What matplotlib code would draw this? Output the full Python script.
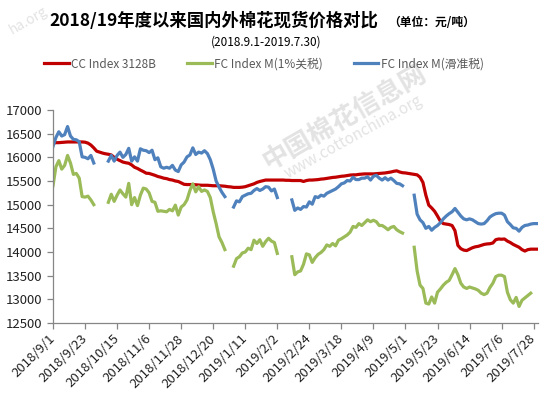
import numpy as np
import pandas as pd
import matplotlib
matplotlib.use('Agg')
import matplotlib.pyplot as plt

plt.rcParams['font.family'] = ['Noto Sans CJK SC', 'DejaVu Sans']

nan = np.nan

# one value every 2 days, 2018-09-01 .. 2019-07-30 (gaps = holidays)
dates = pd.date_range('2018-09-01', '2019-07-30', freq='2D')

cc_index = [
    16300, 16310, 16310, 16315, 16320, 16325, 16325, 16325, 16325, 16325,
    16325, 16320, 16300, 16260, 16200, 16130, 16110, 16090, 16075, 16065,
    16050, 16000, 15960, 15930, 15900, 15885, 15875, 15840, 15790, 15765,
    15730, 15700, 15665, 15660, 15640, 15620, 15595, 15580, 15560, 15550,
    15530, 15520, 15500, 15490, 15460, 15430, 15425, 15425, 15425, 15420,
    15415, 15410, 15410, 15410, 15405, 15400, 15400, 15400, 15395, 15390,
    15380, 15375, 15365, 15365, 15365, 15370, 15380, 15400, 15420, 15440,
    15470, 15490, 15505, 15520, 15520, 15520, 15520, 15520, 15520, 15520,
    15515, 15515, 15510, 15510, 15510, 15510, 15490, 15510, 15520, 15520,
    15525, 15530, 15540, 15545, 15555, 15565, 15575, 15580, 15590, 15600,
    15605, 15615, 15625, 15630, 15630, 15640, 15645, 15650, 15650, 15650,
    15650, 15655, 15660, 15665, 15670, 15680, 15690, 15705, 15715, 15690,
    15675, 15670, 15660, 15650, 15640, 15630, 15580, 15470, 15200, 14990,
    14930, 14860, 14760, 14650, 14600, 14590, 14580, 14560, 14450, 14140,
    14070, 14040, 14030, 14060, 14090, 14110, 14120, 14140, 14160, 14170,
    14175, 14190, 14260, 14275, 14270, 14275, 14230, 14200, 14160, 14130,
    14100, 14050, 14020, 14050, 14060, 14060, 14060,
]

fc_1pct = [
    15400, 15800, 15930, 15750, 15830, 16040, 15880, 15640, 15660, 15560,
    15170, 15160, 15180, 15100, 15000, nan, nan, nan, nan, 15050,
    15220, 15070, 15200, 15310, 15230, 15160, 15450, 15000, 15150, 14980,
    15200, 15350, 15330, 15250, 15070, 15050, 14860, 14870, 14860, 14850,
    14900, 14870, 14990, 14780, 14950, 15000, 15100, 15300, 15440, 15270,
    15380, 15280, 15310, 15280, 15150, 14850, 14600, 14320, 14200, 14050,
    nan, nan, 13700, 13860, 13900, 13980, 14000, 14080, 14050, 14250,
    14180, 14260, 14120, 14220, 14290, 14230, 14200, 13970, nan, nan,
    nan, nan, 13900, 13520, 13580, 13600, 13740, 13960, 13940, 13780,
    13880, 13950, 13990, 14050, 14150, 14120, 14180, 14130, 14250, 14280,
    14320, 14360, 14420, 14540, 14520, 14600, 14560, 14620, 14680, 14640,
    14670, 14640, 14560, 14560, 14520, 14470, 14520, 14540, 14470, 14430,
    14400, nan, nan, nan, 14100, 13600, 13300, 13230, 12920, 12900,
    13050, 12920, 13150, 13220, 13300, 13360, 13400, 13520, 13650, 13520,
    13340, 13260, 13230, 13260, 13240, 13220, 13190, 13130, 13100, 13130,
    13250, 13340, 13480, 13510, 13510, 13480, 13150, 12990, 12920, 13040,
    12850, 12980, 13030, 13080, 13130, nan, nan,
]

fc_sliding = [
    16230, 16420, 16540, 16450, 16480, 16650, 16450, 16380, 16370, 16330,
    16010, 16000, 15970, 16040, 15880, nan, nan, nan, nan, 15920,
    16040, 15920, 16040, 16110, 16000, 16060, 16190, 15920, 16010, 15920,
    16180, 16150, 16140, 16100, 16150, 15950, 15990, 15800, 15770, 15790,
    15770, 15830, 15730, 15700, 15840, 15900, 16010, 16050, 16200, 16060,
    16110, 16090, 16140, 16080, 15950, 15750, 15500, 15370, 15260, 15170,
    nan, nan, 14950, 15080, 15060, 15170, 15200, 15230, 15240, 15300,
    15340, 15300, 15330, 15380, 15370, 15290, 15330, 15150, nan, nan,
    nan, nan, 15100, 14880, 14930, 14900, 14960, 14950, 15060, 15010,
    15170, 15150, 15200, 15180, 15240, 15270, 15300, 15330, 15380, 15440,
    15460, 15510, 15500, 15580, 15530, 15530, 15560, 15560, 15590, 15520,
    15600, 15620, 15560, 15520, 15570, 15520, 15560, 15510, 15450, 15440,
    15400, nan, nan, nan, 15200, 14800, 14680, 14620, 14500, 14540,
    14460, 14520, 14560, 14620, 14700, 14760, 14810, 14850, 14920, 14840,
    14760, 14700, 14680, 14700, 14680, 14640, 14600, 14590, 14600, 14660,
    14740, 14780, 14810, 14820, 14820, 14780, 14640, 14580, 14510, 14500,
    14440, 14520, 14560, 14570, 14590, 14600, 14600,
]

tick_labels = ['2018/9/1', '2018/9/23', '2018/10/15', '2018/11/6', '2018/11/28',
               '2018/12/20', '2019/1/11', '2019/2/2', '2019/2/24', '2019/3/18',
               '2019/4/9', '2019/5/1', '2019/5/23', '2019/6/14', '2019/7/6',
               '2019/7/28']
tick_dates = pd.to_datetime(tick_labels, format='%Y/%m/%d')

W, H = 556, 398
fig = plt.figure(figsize=(W / 100, H / 100), dpi=100)
ax = fig.add_axes([53 / W, 1 - 323 / H, (538 - 53) / W, (323 - 110) / H])

# watermark
wm = '#e3e3e3'
fig.text(345 / W, 1 - 118 / H, '中国棉花信息网', rotation=30, fontsize=19,
         fontweight='bold', color=wm, ha='center', va='center', zorder=0)
fig.text(353 / W, 1 - 137 / H, 'www.cottonchina.org', rotation=29, fontsize=11,
         color=wm, ha='center', va='center', zorder=0)
fig.text(28 / W, 1 - 20 / H, 'ha.org', rotation=30, fontsize=10,
         color=wm, ha='center', va='center', zorder=0)

ax.plot(dates, cc_index, color='#C00000', lw=2.3, label='CC Index 3128B')
ax.plot(dates, fc_1pct, color='#9BBB59', lw=2.3, label='FC Index M(1%关税)')
ax.plot(dates, fc_sliding, color='#4F81BD', lw=2.3, label='FC Index M(滑准税)')
ax.patch.set_alpha(0)

ax.set_ylim(12500, 17000)
ax.set_yticks(range(12500, 17001, 500))
ax.set_xlim(pd.Timestamp('2018-09-01'), pd.Timestamp('2019-07-31'))
ax.set_xticks(tick_dates)
ax.set_xticklabels(tick_labels, rotation=45, ha='right', va='center',
                   rotation_mode='anchor')

for side in ['top', 'right']:
    ax.spines[side].set_visible(False)
for side in ['left', 'bottom']:
    ax.spines[side].set_color('#868686')
    ax.spines[side].set_linewidth(0.9)
ax.tick_params(direction='out', length=4, width=0.9, color='#868686',
               labelsize=9.5, labelcolor='#222222')
ax.tick_params(axis='x', pad=6)

fig.text(214 / W, 1 - 21 / H, '2018/19年度以来国内外棉花现货价格对比',
         ha='center', va='center', fontsize=12.5, fontweight='bold')
fig.text(388 / W, 1 - 22 / H, '（单位：元/吨）', ha='left', va='center',
         fontsize=8.5, fontweight='bold')
fig.text(266 / W, 1 - 42 / H, '(2018.9.1-2019.7.30)', ha='center', va='center',
         fontsize=8.5)

fig.legend(loc='center', bbox_to_anchor=(264 / W, 1 - 64 / H), ncol=3,
           frameon=False, fontsize=8.5, handlelength=2.1, handletextpad=0.2,
           columnspacing=2.6, labelcolor='#595959')

fig.savefig('out.png', dpi=100)
